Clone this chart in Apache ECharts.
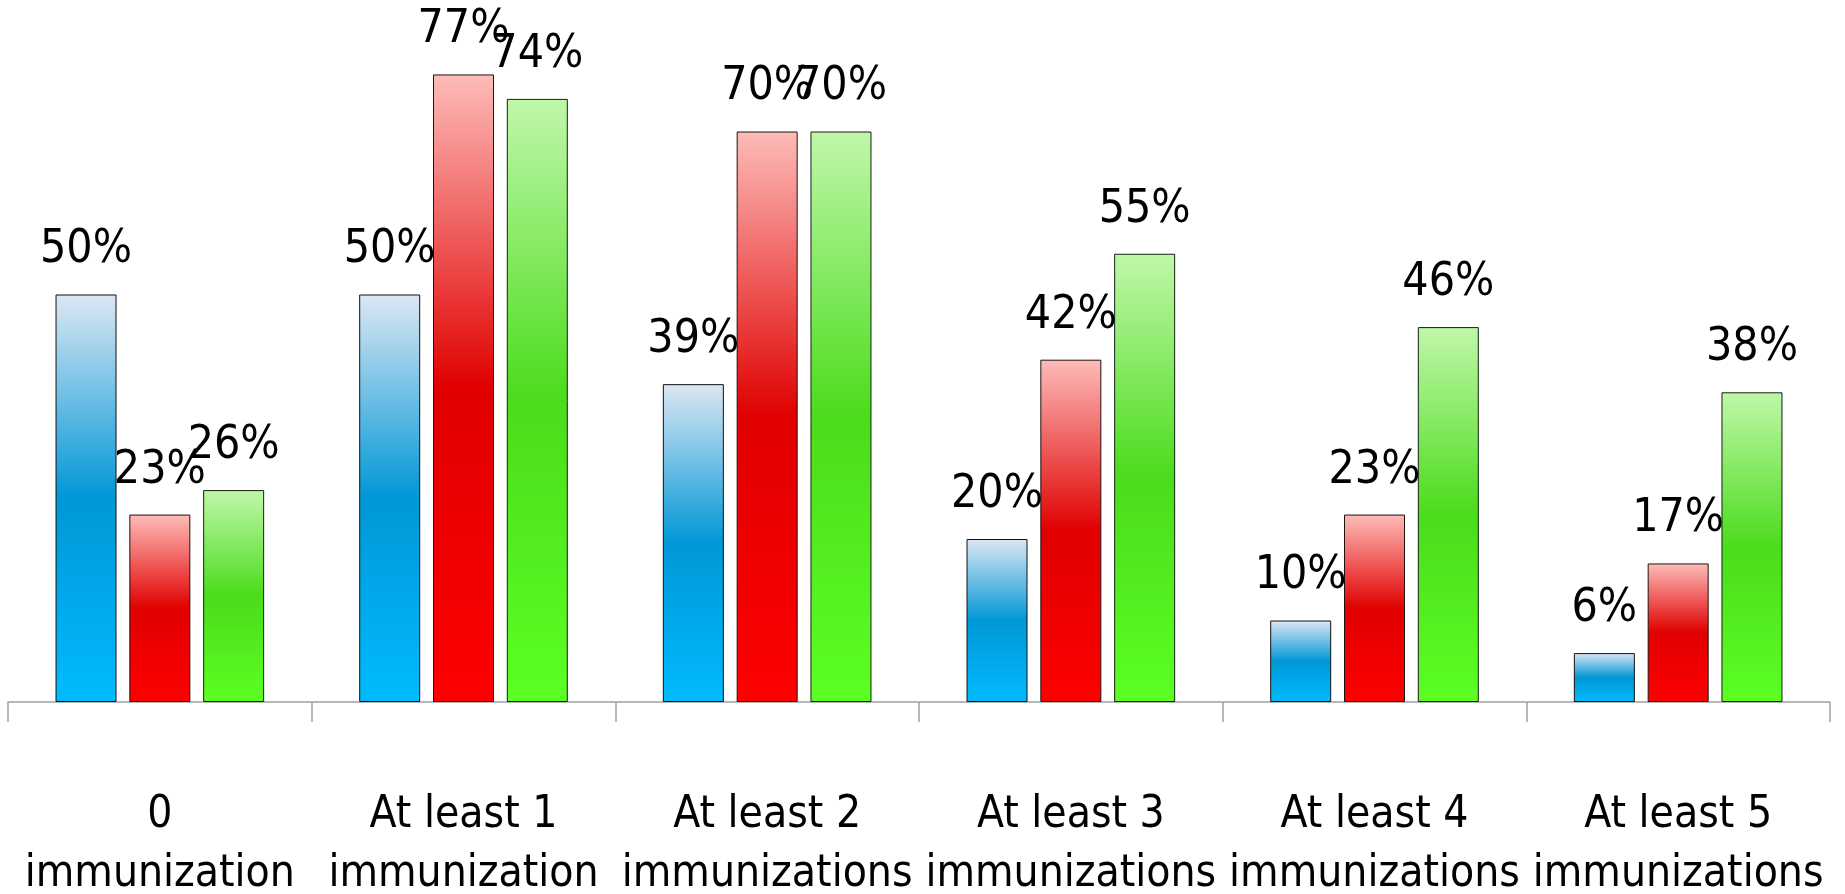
<!DOCTYPE html>
<html>
<head>
<meta charset="utf-8">
<script src="https://cdn.jsdelivr.net/npm/echarts@6/dist/echarts.min.js"></script>
<style>
  html, body { margin: 0; padding: 0; background: #ffffff; }
  #chart { width: 1845px; height: 894px; }
</style>
</head>
<body>
<div id="chart"></div>
<script>
const categories = ['0\nimmunization', 'At least 1\nimmunization', 'At least 2\nimmunizations', 'At least 3\nimmunizations', 'At least 4\nimmunizations', 'At least 5\nimmunizations'];
const seriesNames = ['Series 1', 'Series 2', 'Series 3'];
const blueValues = [50, 50, 39, 20, 10, 6];
const redValues = [23, 77, 70, 42, 23, 17];
const greenValues = [26, 74, 70, 55, 46, 38];

const FONT = "'Liberation Sans Narrow', 'DejaVu Sans Condensed', 'Arial Narrow', sans-serif";

function grad(top, mid, bottom) {
  return new echarts.graphic.LinearGradient(0, 0, 0, 1, [
    { offset: 0, color: top },
    { offset: 0.5, color: mid },
    { offset: 1, color: bottom }
  ]);
}

const fills = [
  grad('#dde7f3', '#0097d6', '#00bbff'),
  grad('#fdbcb9', '#e00000', '#ff0000'),
  grad('#c0f7aa', '#4bdc1b', '#5cff24')
];
const borders = ['#111111', '#221111', '#112211'];

const label = {
  show: true,
  position: 'top',
  distance: 21,
  formatter: '{c}%',
  color: '#000',
  fontFamily: FONT,
  fontSize: 46
};

const chart = echarts.init(document.getElementById('chart'), null, { renderer: 'canvas' });
chart.setOption({
  animation: false,
  backgroundColor: '#ffffff',
  grid: { left: 8, right: 15, top: 50, bottom: 192, containLabel: false, outerBoundsMode: 'none' },
  xAxis: {
    type: 'category',
    data: categories,
    boundaryGap: true,
    axisLine: { show: true, lineStyle: { color: '#a0a0a0', width: 1.5 } },
    axisTick: { show: true, length: 20, alignWithLabel: false, lineStyle: { color: '#a0a0a0', width: 1.5 } },
    axisLabel: {
      interval: 0,
      margin: 84,
      color: '#000',
      fontFamily: FONT,
      fontSize: 44,
      lineHeight: 59,
      align: 'center',
      hideOverlap: false
    }
  },
  yAxis: {
    type: 'value',
    min: 0,
    max: 80,
    show: false,
    splitLine: { show: false }
  },
  series: [blueValues, redValues, greenValues].map((vals, i) => ({
    name: seriesNames[i],
    type: 'bar',
    data: vals,
    barWidth: 61,
    barGap: '21%',
    itemStyle: { color: fills[i], borderColor: borders[i], borderWidth: 1 },
    label: label
  }))
});
</script>
</body>
</html>
